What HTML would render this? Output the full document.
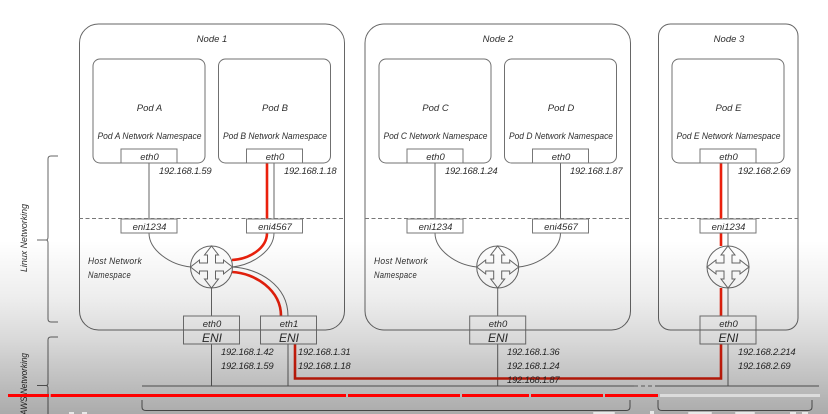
<!DOCTYPE html>
<html>
<head>
<meta charset="utf-8">
<style>
html,body{margin:0;padding:0;background:#fff;width:828px;height:414px;overflow:hidden}
svg{display:block}
text{font-family:"Liberation Sans",sans-serif;font-style:italic;font-size:9.5px;fill:#2e2e2e;text-anchor:middle}
.ip{text-anchor:start;letter-spacing:.3px}
.ns{font-size:9px;letter-spacing:0}
.st{fill:none;stroke:#666;stroke-width:1}
.bx{fill:#fff;stroke:#777;stroke-width:1}
.red{fill:none;stroke:#ea200c;stroke-width:2.6}
</style>
</head>
<body>
<svg width="828" height="414" viewBox="0 0 828 414" xmlns="http://www.w3.org/2000/svg">
<defs>
<linearGradient id="g" gradientUnits="userSpaceOnUse" x1="0" y1="0" x2="0" y2="414">
<stop offset="0" stop-color="#000" stop-opacity="0"/>
<stop offset=".58" stop-color="#000" stop-opacity="0"/>
<stop offset=".72" stop-color="#000" stop-opacity=".07"/>
<stop offset=".82" stop-color="#000" stop-opacity=".15"/>
<stop offset="1" stop-color="#000" stop-opacity=".33"/>
</linearGradient>
<g id="rt">
<circle r="21" fill="#fff" stroke="#666"/>
<path d="M0,-21 7,-12 4,-12 4,-4 12,-4 12,-7 21,0 12,7 12,4 4,4 4,12 7,12 0,21 -7,12 -4,12 -4,4 -12,4 -12,7 -21,0 -12,-7 -12,-4 -4,-4 -4,-12 -7,-12Z" fill="#fff" stroke="#666"/>
</g>
</defs>
<rect width="828" height="414" fill="#fff"/>
<g style="filter:blur(.3px)">
<rect class="st" x="79.500" y="24" width="265" height="306" rx="19"/>
<rect class="st" x="365" y="24" width="265.500" height="306" rx="19"/>
<rect class="st" x="658.500" y="24" width="139.500" height="306" rx="12"/>
<g stroke="#777" stroke-dasharray="4 2.500" fill="none">
<path d="M79 218.500H344M365 218.500H630M658 218.500H798"/>
</g>
<g class="st" style="fill:none;stroke:#707070">
<rect x="93" y="59" width="112" height="104" rx="7"/>
<rect x="218.500" y="59" width="112" height="104" rx="7"/>
<rect x="379" y="59" width="112" height="104" rx="7"/>
<rect x="504.500" y="59" width="112" height="104" rx="7"/>
<rect x="672" y="59" width="112" height="104" rx="7"/>
</g>

<!-- connectors -->
<path class="st" d="M149 163V219M149 233C149 250 170 265 191 267M274 163V219M274 233C274 250 253 265 232 267M232 267C258 268 288 285 288 316M211.500 288V316M211.500 344V386M288 344V386"/>
<path class="st" d="M435 163V219M435 233C435 250 456 265 477 267M560.500 163V219M560.500 233C560.500 250 539 265 518.500 267M497.700 288V316M497.700 344V386"/>
<path class="st" d="M728 163V219M728 233V246M728 288V316M728 344V386"/>
<path class="st" d="M142 386H634M655 386H819"/>
<path d="M634 386H655" stroke="#777" stroke-dasharray="4 3" fill="none"/>

<!-- red path -->
<path class="red" d="M267 163V219M267 233C267 248 250 259 232 260M232 272C255 273 281 290 281 316M295 344V378.500H721V344M721 316V288M721 246V233M721 219V163"/>

<!-- boxes -->
<g class="bx">
<rect x="121" y="149" width="56" height="14"/><rect x="246.500" y="149" width="56" height="14"/>
<rect x="407" y="149" width="56" height="14"/><rect x="532.500" y="149" width="56" height="14"/>
<rect x="700" y="149" width="56" height="14"/>
<rect x="121" y="219" width="56" height="14"/><rect x="246.500" y="219" width="56" height="14"/>
<rect x="407" y="219" width="56" height="14"/><rect x="532.500" y="219" width="56" height="14"/>
<rect x="700" y="219" width="56" height="14"/>
<rect x="183.500" y="316" width="56" height="28"/><rect x="260.500" y="316" width="56" height="28"/>
<rect x="469.700" y="316" width="56" height="28"/><rect x="700" y="316" width="56" height="28"/>
</g>
<path d="M183.500 330H239.500M260.500 330H316.500M469.700 330H525.700M700 330H756" stroke="#666" fill="none"/>

<use href="#rt" x="211.500" y="267"/>
<use href="#rt" x="497.700" y="267"/>
<use href="#rt" x="728" y="267"/>

<!-- left braces -->
<path class="st" d="M58 156H51Q48 156 48 159V237Q48 240 46 240H37M46 240Q48 240 48 243V319Q48 322 51 322H58"/>
<path class="st" d="M58 337H51Q48 337 48 340V383Q48 385.500 46 385.500H37M46 385.500Q48 385.500 48 388V414"/>
<!-- bottom braces -->
<path class="st" d="M142 400V407Q142 410.500 146 410.500H626Q630 410.500 630 407V400M658 400V407Q658 410.500 662 410.500H808Q812 410.500 812 407V400"/>

<!-- labels -->
<text x="212" y="42">Node 1</text>
<text x="498" y="42">Node 2</text>
<text x="729" y="42">Node 3</text>

<text x="149.500" y="111">Pod A</text>
<text x="275" y="111">Pod B</text>
<text x="435.500" y="111">Pod C</text>
<text x="561" y="111">Pod D</text>
<text x="728.500" y="111">Pod E</text>

<text class="ns" x="149.500" y="139" textLength="104" lengthAdjust="spacingAndGlyphs">Pod A Network Namespace</text>
<text class="ns" x="275" y="139" textLength="104" lengthAdjust="spacingAndGlyphs">Pod B Network Namespace</text>
<text class="ns" x="435.500" y="139" textLength="104" lengthAdjust="spacingAndGlyphs">Pod C Network Namespace</text>
<text class="ns" x="561" y="139" textLength="104" lengthAdjust="spacingAndGlyphs">Pod D Network Namespace</text>
<text class="ns" x="728.500" y="139" textLength="104" lengthAdjust="spacingAndGlyphs">Pod E Network Namespace</text>

<text x="149.500" y="160">eth0</text>
<text x="275" y="160">eth0</text>
<text x="435.500" y="160">eth0</text>
<text x="561" y="160">eth0</text>
<text x="728.500" y="160">eth0</text>

<text x="149.500" y="230">eni1234</text>
<text x="275" y="230">eni4567</text>
<text x="435.500" y="230">eni1234</text>
<text x="561" y="230">eni4567</text>
<text x="728.500" y="230">eni1234</text>

<text class="ip" x="159" y="174" textLength="53">192.168.1.59</text>
<text class="ip" x="284" y="174" textLength="53">192.168.1.18</text>
<text class="ip" x="445" y="174" textLength="53">192.168.1.24</text>
<text class="ip" x="570" y="174" textLength="53">192.168.1.87</text>
<text class="ip" x="738" y="174" textLength="53">192.168.2.69</text>

<text class="ip" x="88" y="264" textLength="54" lengthAdjust="spacingAndGlyphs">Host Network</text>
<text class="ip" x="88" y="278" textLength="43" lengthAdjust="spacingAndGlyphs">Namespace</text>
<text class="ip" x="374" y="264" textLength="54" lengthAdjust="spacingAndGlyphs">Host Network</text>
<text class="ip" x="374" y="278" textLength="43" lengthAdjust="spacingAndGlyphs">Namespace</text>

<text x="212" y="327">eth0</text>
<text x="289" y="327">eth1</text>
<text x="498" y="327">eth0</text>
<text x="728.500" y="327">eth0</text>
<text x="212" y="342" style="font-size:12px">ENI</text>
<text x="289" y="342" style="font-size:12px">ENI</text>
<text x="498" y="342" style="font-size:12px">ENI</text>
<text x="728.500" y="342" style="font-size:12px">ENI</text>

<text class="ip" x="221" y="355" textLength="53">192.168.1.42</text>
<text class="ip" x="221" y="369" textLength="53">192.168.1.59</text>
<text class="ip" x="298" y="355" textLength="53">192.168.1.31</text>
<text class="ip" x="298" y="369" textLength="53">192.168.1.18</text>
<text class="ip" x="507" y="355" textLength="53">192.168.1.36</text>
<text class="ip" x="507" y="369" textLength="53">192.168.1.24</text>
<text class="ip" x="507" y="383" textLength="53">192.168.1.87</text>
<text class="ip" x="738" y="355" textLength="58">192.168.2.214</text>
<text class="ip" x="738" y="369" textLength="53">192.168.2.69</text>

<text transform="translate(27 238) rotate(-90)" textLength="68" lengthAdjust="spacingAndGlyphs">Linux Networking</text>
<text transform="translate(27 384) rotate(-90)" textLength="62" lengthAdjust="spacingAndGlyphs">AWS Networking</text>
</g>

<rect width="828" height="414" fill="url(#g)"/>

<!-- player controls remnants -->
<g fill="#e8e8e8">
<rect x="593" y="412" width="22" height="2" rx="1"/>
<rect x="688" y="412" width="24" height="2" rx="1"/>
<rect x="735" y="412" width="20" height="2" rx="1"/>
<rect x="790" y="412" width="6" height="2"/>
<rect x="802" y="412" width="6" height="2"/>
<rect x="650" y="411" width="4" height="3"/>
<rect x="69" y="412" width="5" height="2"/>
<rect x="82" y="412" width="5" height="2"/>
</g>

<!-- progress bar -->
<rect x="660" y="394" width="160" height="3" fill="#dcdcdc"/>
<g fill="#f00">
<rect x="8" y="394" width="41" height="3"/>
<rect x="50.700" y="394" width="295.300" height="3"/>
<rect x="348" y="394" width="112" height="3"/>
<rect x="462" y="394" width="67" height="3"/>
<rect x="531" y="394" width="72" height="3"/>
<rect x="605" y="394" width="53" height="3"/>
</g>
</svg>
</body>
</html>
